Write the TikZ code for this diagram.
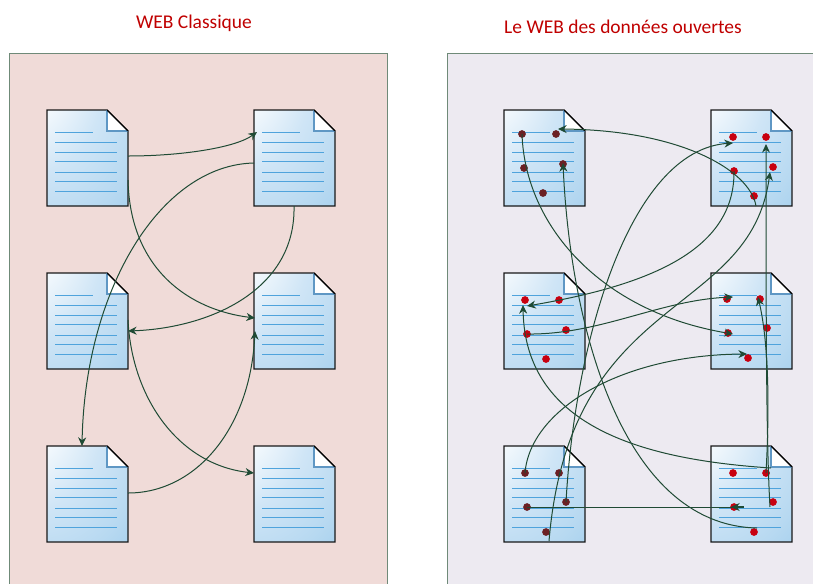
\documentclass[tikz,border=0pt]{standalone}
\usepackage{fontspec}
\setmainfont{Carlito}
\usetikzlibrary{arrows.meta}
\definecolor{titlered}{HTML}{C00000}
\definecolor{panelrose}{HTML}{F0DBD8}
\definecolor{panelmauve}{HTML}{EDEAF1}
\definecolor{panelline}{HTML}{6F8A78}
\definecolor{linkgreen}{HTML}{1F4A34}
\definecolor{rulerblue}{HTML}{4FA3DC}
\definecolor{foldblue}{HTML}{5F97C4}
\definecolor{paperblue}{HTML}{A0CDEC}
\definecolor{papermid}{HTML}{CFE5F6}
\definecolor{dotred}{HTML}{C80010}
\definecolor{dotdark}{HTML}{6B2024}
\pgfdeclareradialshading{papershade}{\pgfpoint{-50bp}{50bp}}{
color(0bp)=(white);
color(18bp)=(white);
color(44bp)=(papermid);
color(64bp)=(papermid!50!paperblue);
color(80bp)=(paperblue);
color(150bp)=(paperblue)}
\tikzset{x=0.75pt,y=-0.75pt,
title/.style={text=titlered,font=\fontsize{14.6}{17}\selectfont},
panel/.style={draw=panelline,line width=0.75pt},
paper/.style={draw=black!90,line width=1pt,shading=papershade},
fold/.style={fill=white,draw=none},
rulerline/.style={draw=rulerblue,line width=1.1pt},
docnode/.style={minimum width=60.75pt,minimum height=72pt,inner sep=0pt,anchor=north west},
reddot/.style={circle,fill=dotred,inner sep=0pt,minimum size=5.8pt},
darkdot/.style={circle,fill=dotdark,inner sep=0pt,minimum size=5.8pt},
webline/.style={draw=linkgreen,line width=0.75pt},
webedge/.style={webline,-{Stealth[length=6.5pt,width=6pt]}}}
% one page: name, left, top
\newcommand{\webdoc}[3]{
\node[docnode] (#1) at (#2,#3) {};
\begin{scope}[shift={(#2,#3)}]
\path[paper] (0,0) -- (60,0) -- (81,21) -- (81,96) -- (0,96) -- cycle;
\fill[fold] (60,0) -- (81,21) -- (60,21) -- cycle;
\draw[foldblue,line width=1pt] (60,0) -- (60,21) -- (81,21);
\draw[black,line width=1pt] (60,0) -- (81,21);
\draw[rulerline] (8,22.5) -- (46,22.5);
\foreach \ly in {32.5,42.5,51.5,62.5,71.5,81.5}
\draw[rulerline] (8,\ly) -- (70,\ly);
\end{scope}}
\begin{document}
\begin{tikzpicture}
\clip (0,0) rectangle (813,583);
\fill[white] (0,0) rectangle (813,583);
\node[title] (classic) at (194,23) {WEB Classique};
\node[title] (open) at (623,27) {Le WEB des données ouvertes};
\draw[panel,fill=panelrose] (9,53) rectangle (387,600);
\draw[panel,fill=panelmauve] (447,53) rectangle (830,600);
% left panel
\webdoc{la}{47}{110}
\webdoc{lb}{254}{110}
\webdoc{lc}{47}{273}
\webdoc{ld}{254}{273}
\webdoc{le}{47}{446}
\webdoc{lf}{254}{446}
\coordinate (la1) at (128,156);
\coordinate (la2) at (128,180);
\coordinate (lb1) at (257,132);
\coordinate (lb2) at (254,163);
\coordinate (lb3) at (294,206);
\coordinate (lc1) at (128,331);
\coordinate (lc2) at (128,320);
\coordinate (ld1) at (255,318);
\coordinate (ld2) at (255,331);
\coordinate (le1) at (82,446);
\coordinate (le2) at (128,493);
\coordinate (lf1) at (254,473);
\draw[webedge] (la1) .. controls (180,156) and (235,148) .. (lb1);
\draw[webedge] (la2) .. controls (130,270) and (190,310) .. (ld1);
\draw[webedge] (lb2) .. controls (160,165) and (85,290) .. (le1);
\draw[webedge] (lb3) .. controls (296,290) and (210,328) .. (lc1);
\draw[webedge] (lc2) .. controls (132,400) and (180,465) .. (lf1);
\draw[webedge] (le2) .. controls (195,493) and (250,430) .. (ld2);
% right panel
\webdoc{ra}{504}{110}
\webdoc{rb}{711}{110}
\webdoc{rc}{504}{273}
\webdoc{rd}{711}{273}
\webdoc{re}{504}{446}
\webdoc{rf}{711}{446}
\foreach \dotname/\dx/\dy in {a1/522/134,a2/556/134,a3/524/168,a4/563/164,a5/543/193,
e1/525/473,e2/559/473,e3/566/502,e4/527/507,e5/546/532}
\node[darkdot] (\dotname) at (\dx,\dy) {};
\foreach \dotname/\dx/\dy in {b1/733/137,b2/766/137,b3/773/167,b4/734/171,b5/754/196,
c1/525/300,c2/559/300,c3/566/330,c4/527/334,c5/546/359,
d1/727/299,d2/760/299,d3/767/328,d4/728/333,d5/748/358,
f1/733/473,f2/766/473,f3/773/502,f4/734/507,f5/754/532}
\node[reddot] (\dotname) at (\dx,\dy) {};
\coordinate (a0) at (558,129);
\coordinate (a6) at (563,163);
\coordinate (b0) at (733,143);
\coordinate (b6) at (766,144);
\coordinate (b7) at (770,172);
\coordinate (b8) at (756,206);
\coordinate (c0) at (527,306);
\coordinate (c6) at (523,305);
\coordinate (d0) at (733,297);
\coordinate (d6) at (733,334);
\coordinate (d7) at (747,354);
\coordinate (d8) at (758,297);
\coordinate (e0) at (549,541);
\coordinate (f0) at (757,528);
\coordinate (f6) at (771,468);
\coordinate (f7) at (770,507);
\coordinate (f8) at (744,507);
\coordinate (f9) at (731,507);
\draw[webedge] (a1.center) .. controls (525,225) and (600,312) .. (d6);
\draw[webedge] (f0) .. controls (620,525) and (570,320) .. (a6);
\draw[webedge] (b8) .. controls (750,170) and (680,130) .. (a0);
\draw[webedge] (b4.center) .. controls (735,250) and (650,285) .. (c0);
\draw[webedge] (c4.center) .. controls (600,335) and (660,300) .. (d0);
\draw[webedge] (e0) .. controls (570,290) and (750,320) .. (b7);
\draw[webedge] (e3.center) .. controls (575,340) and (630,150) .. (b0);
\draw[webedge] (e1.center) .. controls (530,410) and (620,355) .. (d7);
\draw[webedge] (f6) .. controls (650,460) and (525,430) .. (c6);
\draw[webline] (e4.center) -- (f8);
\draw[webedge,line width=1.2pt] (f8) -- (f9);
\draw[webedge] (f7) .. controls (766,440) and (766,300) .. (b6);
\draw[webedge] (f2.center) .. controls (770,400) and (768,340) .. (d8);
\end{tikzpicture}
\end{document}
